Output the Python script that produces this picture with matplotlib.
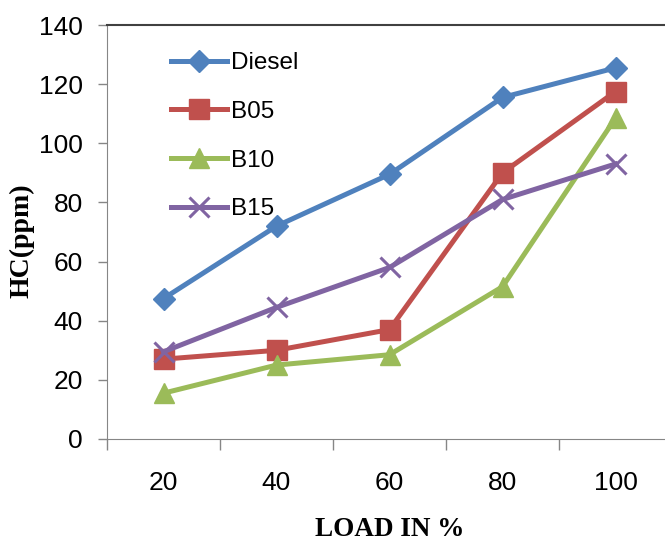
import matplotlib.pyplot as plt
import numpy as np

# data
loads = ['20', '40', '60', '80', '100']
diesel = [47.5, 72, 89.5, 115.5, 125.5]
b05 = [27, 30, 37, 90, 117.5]
b10 = [15.5, 25, 28.5, 51.5, 108.5]
b15 = [29.5, 44.5, 58, 81, 93]

tick_font = 'Liberation Sans'
label_font = 'Liberation Serif'

fig = plt.figure(figsize=(6.65, 5.44), dpi=100)
ax = fig.add_axes([107/665, 1 - 439/544, 565/665, 414/544])

x = np.arange(len(loads))
ax.plot(x, diesel, color='#4F81BD', lw=3.6, marker='D', ms=11, label='Diesel')
ax.plot(x, b05, color='#C0504D', lw=3.6, marker='s', ms=14, label='B05')
ax.plot(x, b10, color='#9BBB59', lw=3.6, marker='^', ms=15, label='B10')
ax.plot(x, b15, color='#8064A2', lw=3.6, marker='x', ms=14, mew=2.2, label='B15')

ax.set_xlim(-0.5, 4.5)
ax.set_ylim(0, 140)
ax.set_yticks(np.arange(0, 141, 20))

# category ticks sit between groups, labels centred on groups
ax.set_xticks(np.arange(-0.5, 5, 1))
ax.set_xticklabels([])
ax.set_xticks(x, minor=True)
ax.set_xticklabels(loads, minor=True, fontfamily=tick_font, fontsize=19)
ax.tick_params(axis='x', which='major', length=8, width=1, color='#868686', direction='out')
ax.tick_params(axis='x', which='minor', length=0, pad=23)
ax.tick_params(axis='y', length=6.5, width=1, color='#868686', direction='out', pad=11)
for t in ax.get_yticklabels():
    t.set_fontfamily(tick_font)
    t.set_fontsize(19)

ax.spines['left'].set_color('#868686')
ax.spines['bottom'].set_color('#868686')
ax.spines['top'].set_color('#404040')
ax.spines['top'].set_linewidth(1.5)
ax.spines['right'].set_visible(False)

fig.text(22/665, 1 - 241/544, 'HC(ppm)', rotation=90, ha='center', va='center',
         fontfamily=label_font, fontweight='bold', fontsize=20)
fig.text(390/665, 1 - 529/544, 'LOAD IN %', ha='center', va='center',
         fontfamily=label_font, fontweight='bold', fontsize=19.5)

leg = fig.legend(loc='upper left', bbox_to_anchor=(171/665, 1 - 52/544), frameon=False,
                 borderpad=0, borderaxespad=0, handlelength=2.3, handletextpad=0.15,
                 labelspacing=1.1, prop={'family': tick_font, 'size': 17.5})

fig.savefig('out.png', dpi=100)
